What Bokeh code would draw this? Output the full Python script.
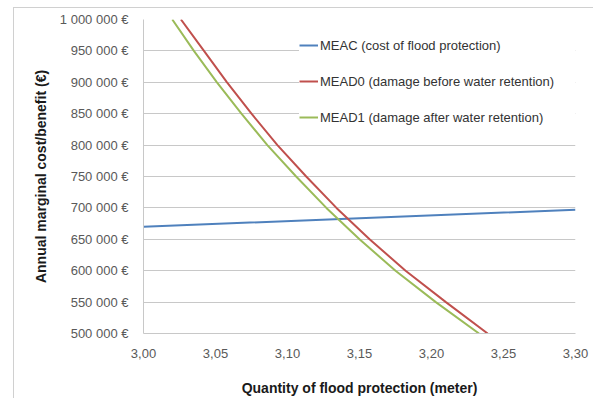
from bokeh.plotting import figure
from bokeh.models import Range1d, FixedTicker, CustomJSTickFormatter, Legend, LegendItem
from bokeh.embed import file_html
from bokeh.resources import INLINE

# ---- data ----
x_ticks = [3.00, 3.05, 3.10, 3.15, 3.20, 3.25, 3.30]
y_ticks = [500000, 550000, 600000, 650000, 700000, 750000, 800000, 850000, 900000, 950000, 1000000]

meac_x = [3.00, 3.15, 3.30]
meac_y = [670000, 683500, 697000]

mead0_x = [3.026, 3.042, 3.058, 3.075, 3.093, 3.113, 3.134, 3.157, 3.182, 3.210, 3.239]
mead0_y = [1000000, 950000, 900000, 850000, 800000, 750000, 700000, 650000, 600000, 550000, 500000]

mead1_x = [3.020, 3.035, 3.051, 3.068, 3.086, 3.106, 3.127, 3.150, 3.175, 3.203, 3.233]
mead1_y = [1000000, 950000, 900000, 850000, 800000, 750000, 700000, 650000, 600000, 550000, 500000]

labels = ["MEAC (cost of flood protection)",
          "MEAD0 (damage before water retention)",
          "MEAD1 (damage after water retention)"]
colors = ["#4F81BD", "#C0504D", "#9BBB59"]

FONT = "Liberation Sans"

p = figure(output_backend="svg", toolbar_location=None,
           frame_width=432, frame_height=314,
           min_border_left=129, min_border_top=11, min_border_right=18, min_border_bottom=62,
           x_range=Range1d(3.0, 3.3), y_range=Range1d(500000, 1000000))
p.margin = (7, 0, 0, 13)
p.styles = {"border-left": "1px solid #d0d0d0", "border-top": "1px solid #d0d0d0"}
p.outline_line_color = None
p.background_fill_color = "white"
p.border_fill_color = "white"

r0 = p.line(meac_x, meac_y, line_color=colors[0], line_width=2)
r1 = p.line(mead0_x, mead0_y, line_color=colors[1], line_width=2)
r2 = p.line(mead1_x, mead1_y, line_color=colors[2], line_width=2)

# axes
p.xaxis.ticker = FixedTicker(ticks=x_ticks)
p.yaxis.ticker = FixedTicker(ticks=y_ticks)
p.xaxis.formatter = CustomJSTickFormatter(code="return tick.toFixed(2).replace('.', ',');")
p.yaxis.formatter = CustomJSTickFormatter(
    code="return Math.round(tick).toString().replace(/\\B(?=(\\d{3})+(?!\\d))/g, ' ') + ' \u20ac';")

for ax in (p.xaxis[0], p.yaxis[0]):
    ax.major_tick_line_color = None
    ax.minor_tick_line_color = None
    ax.axis_line_color = "#c8c8c8"
    ax.major_label_text_font = FONT
    ax.major_label_text_font_size = "13px"
    ax.major_label_text_color = "#595959"
    ax.axis_label_text_font = FONT
    ax.axis_label_text_font_size = "14px"
    ax.axis_label_text_font_style = "bold"
    ax.axis_label_text_color = "#1a1a1a"

p.xaxis.axis_label = "Quantity of flood protection (meter)"
p.yaxis.axis_label = "Annual marginal cost/benefit (€)"
p.xaxis.major_label_standoff = 9
p.xaxis.axis_label_standoff = 19
p.yaxis.major_label_standoff = 9
p.yaxis.axis_label_standoff = 8

p.xgrid.grid_line_color = None
p.ygrid.grid_line_color = "#c8c8c8"
p.ygrid.grid_line_width = 1

legend = Legend(items=[LegendItem(label=labels[0], renderers=[r0]),
                       LegendItem(label=labels[1], renderers=[r1]),
                       LegendItem(label=labels[2], renderers=[r2])],
                location=(156, 206))
legend.background_fill_color = "white"
legend.background_fill_alpha = 1.0
legend.border_line_color = None
legend.label_text_font = FONT
legend.label_text_font_size = "13px"
legend.label_text_color = "#333333"
legend.glyph_width = 19
legend.glyph_height = 20
legend.label_height = 20
legend.label_width = 264
legend.label_standoff = 2
legend.spacing = 16
legend.padding = 16
legend.margin = 0
p.add_layout(legend, "center")

open("out.html", "w").write(file_html(p, INLINE))
